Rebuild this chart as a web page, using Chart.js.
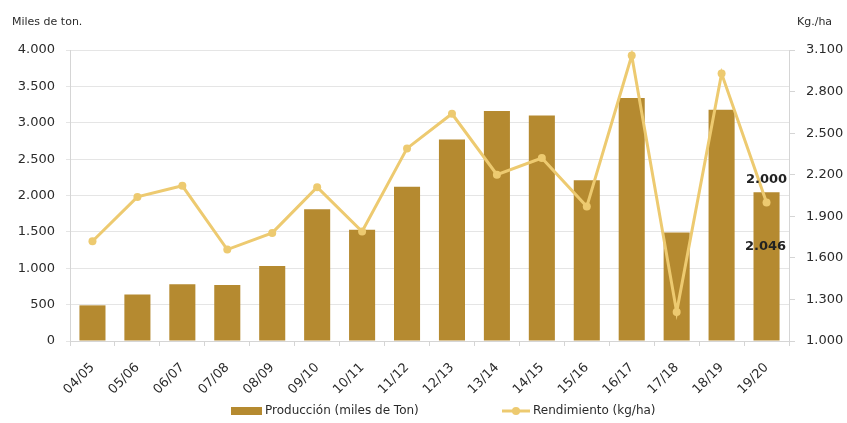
<!DOCTYPE html>
<html lang="es">
<head>
<meta charset="utf-8">
<script src="https://cdn.jsdelivr.net/npm/chart.js@4.4.1/dist/chart.umd.min.js"></script>
<style>
  html, body { margin: 0; padding: 0; background: #fff; }
</style>
</head>
<body>
<canvas id="chart" width="847" height="423"></canvas>
<script>
// Campañas y valores
const campanias = ["04/05", "05/06", "06/07", "07/08", "08/09", "09/10", "10/11", "11/12",
  "12/13", "13/14", "14/15", "15/16", "16/17", "17/18", "18/19", "19/20"];
const produccion = [490, 640, 780, 770, 1030, 1810, 1530, 2120, 2770, 3160, 3100, 2210, 3340, 1490, 3180, 2046];
const rendimiento = [1720, 2040, 2120, 1660, 1780, 2110, 1790, 2390, 2640, 2200, 2320, 1970, 3060, 1210, 2930, 2000];
const ticksProduccion = [0, 500, 1000, 1500, 2000, 2500, 3000, 3500, 4000];
const ticksRendimiento = [1000, 1300, 1600, 1900, 2200, 2500, 2800, 3100];

const FONT = "'DejaVu Sans', sans-serif";
const BAR_COLOR = "#b58a30";
const LINE_COLOR = "#edca70";
const TEXT_COLOR = "#2b2b2b";

function fmt(v) {
  return String(v).replace(/\B(?=(\d{3})+(?!\d))/g, ".");
}

const titulosEjes = {
  id: "titulosEjes",
  afterDraw(chart) {
    const ctx = chart.ctx;
    ctx.save();
    ctx.font = "11px " + FONT;
    ctx.fillStyle = TEXT_COLOR;
    ctx.textBaseline = "middle";
    ctx.textAlign = "left";
    ctx.fillText("Miles de ton.", 12, 22);
    ctx.fillText("Kg./ha", 797, 22);
    ctx.restore();
  }
};

const etiquetas = {
  id: "etiquetas",
  afterDatasetsDraw(chart) {
    const ctx = chart.ctx;
    const i = campanias.length - 1;
    const bar = chart.getDatasetMeta(0).data[i];
    const pt = chart.getDatasetMeta(1).data[i];
    ctx.save();
    ctx.font = "bold 13px " + FONT;
    ctx.fillStyle = "#222";
    ctx.textAlign = "center";
    ctx.textBaseline = "middle";
    ctx.fillText(fmt(rendimiento[i]), pt.x, pt.y - 23);
    ctx.fillText(fmt(produccion[i]), bar.x - 1, bar.y + 54);
    ctx.restore();
  }
};

const leyenda = {
  id: "leyenda",
  afterDraw(chart) {
    const ctx = chart.ctx;
    const barras = chart.data.datasets[0];
    const linea = chart.data.datasets[1];
    const y = 411;
    ctx.save();
    ctx.font = "12px " + FONT;
    ctx.textBaseline = "middle";
    ctx.textAlign = "left";
    ctx.fillStyle = barras.backgroundColor;
    ctx.fillRect(231, y - 4, 31, 8);
    ctx.fillStyle = TEXT_COLOR;
    ctx.fillText(barras.label, 265, y);
    ctx.strokeStyle = linea.borderColor;
    ctx.lineWidth = 3;
    ctx.beginPath();
    ctx.moveTo(502, y);
    ctx.lineTo(530, y);
    ctx.stroke();
    ctx.fillStyle = linea.borderColor;
    ctx.beginPath();
    ctx.arc(516, y, 4, 0, Math.PI * 2);
    ctx.fill();
    ctx.fillStyle = TEXT_COLOR;
    ctx.fillText(linea.label, 533, y);
    ctx.restore();
  }
};

new Chart(document.getElementById("chart"), {
  type: "bar",
  data: {
    labels: campanias,
    datasets: [
      {
        type: "bar",
        label: "Producción (miles de Ton)",
        data: produccion,
        backgroundColor: BAR_COLOR,
        barPercentage: 0.58,
        categoryPercentage: 1,
        yAxisID: "y",
        order: 2
      },
      {
        type: "line",
        label: "Rendimiento (kg/ha)",
        data: rendimiento,
        borderColor: LINE_COLOR,
        backgroundColor: LINE_COLOR,
        borderWidth: 3,
        pointRadius: 4,
        pointBackgroundColor: LINE_COLOR,
        pointBorderWidth: 0,
        tension: 0,
        yAxisID: "y1",
        order: 1
      }
    ]
  },
  options: {
    responsive: false,
    animation: false,
    layout: { padding: { top: 50, left: 0, right: 0, bottom: 0 } },
    plugins: {
      legend: { display: false },
      tooltip: { enabled: false }
    },
    scales: {
      x: {
        offset: true,
        grid: { display: true, drawOnChartArea: false, offset: true, tickLength: 5, color: "#d5d5d5" },
        border: { color: "#d5d5d5" },
        ticks: {
          minRotation: 45,
          maxRotation: 45,
          padding: 14,
          color: TEXT_COLOR,
          font: { family: FONT, size: 13 }
        },
        afterFit(scale) { scale.height = 82; }
      },
      y: {
        position: "left",
        min: ticksProduccion[0],
        max: ticksProduccion[ticksProduccion.length - 1],
        afterBuildTicks(scale) { scale.ticks = ticksProduccion.map(v => ({ value: v })); },
        grid: { color: "#e5e5e5", tickLength: 4 },
        border: { color: "#d5d5d5" },
        ticks: {
          padding: 11,
          color: TEXT_COLOR,
          font: { family: FONT, size: 13 },
          callback: v => fmt(v)
        },
        afterFit(scale) { scale.width = 70; }
      },
      y1: {
        position: "right",
        min: ticksRendimiento[0],
        max: ticksRendimiento[ticksRendimiento.length - 1],
        afterBuildTicks(scale) { scale.ticks = ticksRendimiento.map(v => ({ value: v })); },
        grid: { drawOnChartArea: false, color: "#d5d5d5", tickLength: 6 },
        border: { color: "#d5d5d5" },
        ticks: {
          padding: 11,
          color: TEXT_COLOR,
          font: { family: FONT, size: 13 },
          callback: v => fmt(v)
        },
        afterFit(scale) { scale.width = 58; }
      }
    }
  },
  plugins: [titulosEjes, etiquetas, leyenda]
});
</script>
</body>
</html>
